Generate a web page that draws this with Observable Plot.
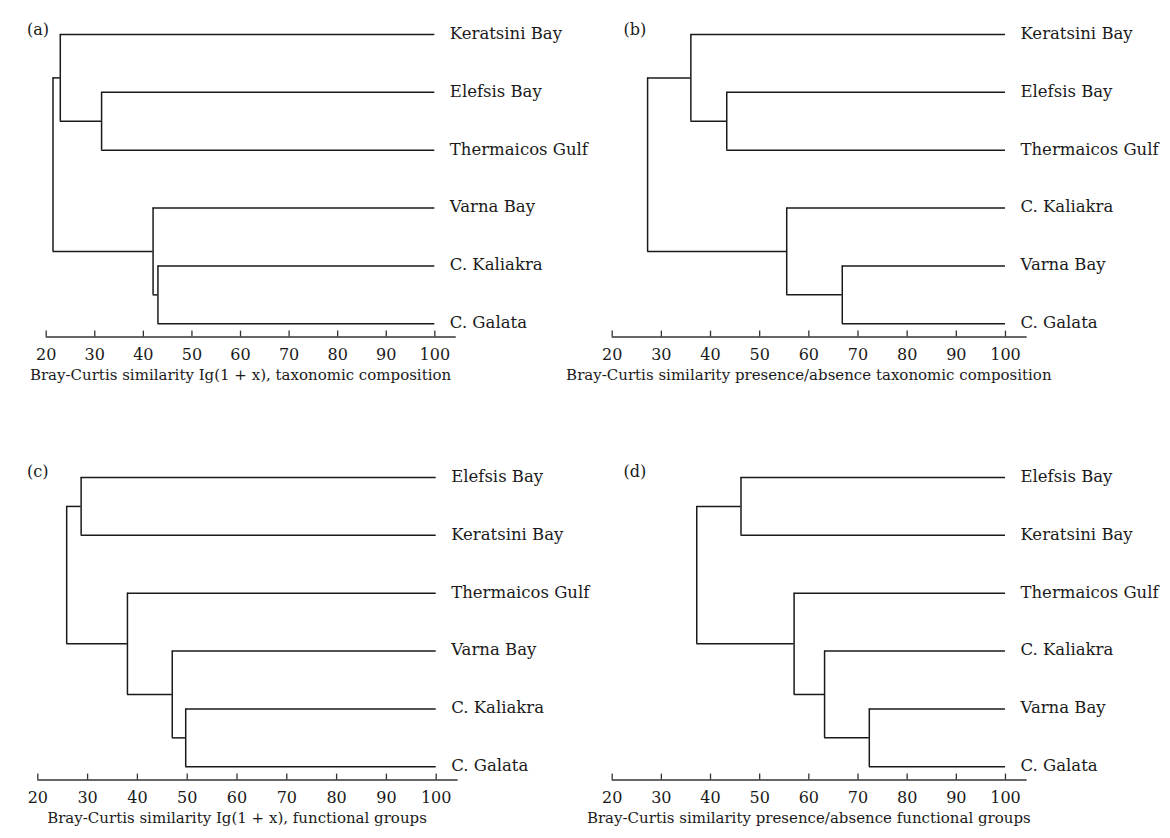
<!DOCTYPE html>
<html><head><meta charset="utf-8">
<script src="https://cdn.jsdelivr.net/npm/d3@7"></script>
<script src="https://cdn.jsdelivr.net/npm/@observablehq/plot@0.6"></script>
<style>
body{margin:0;background:#fff;}
#chart{position:relative;width:1170px;height:838px;overflow:hidden;}
#chart svg{position:absolute;overflow:visible;}
</style></head><body><div id="chart"></div>
<script>
// ---- data ----
const tickValues = [20, 30, 40, 50, 60, 70, 80, 90, 100];

const leavesA = ["Keratsini Bay", "Elefsis Bay", "Thermaicos Gulf", "Varna Bay", "C. Kaliakra", "C. Galata"];
const mergesA = [
  ["Elefsis Bay", "Thermaicos Gulf", 31.4],   // #0
  ["Keratsini Bay", "#0", 22.9],              // #1
  ["C. Kaliakra", "C. Galata", 43.0],         // #2
  ["Varna Bay", "#2", 42.0],                  // #3
  ["#1", "#3", 21.4]                          // #4
];
const titleA = "Bray-Curtis similarity Ig(1 + x), taxonomic composition";

const leavesB = ["Keratsini Bay", "Elefsis Bay", "Thermaicos Gulf", "C. Kaliakra", "Varna Bay", "C. Galata"];
const mergesB = [
  ["Elefsis Bay", "Thermaicos Gulf", 43.3],
  ["Keratsini Bay", "#0", 36.0],
  ["Varna Bay", "C. Galata", 66.8],
  ["C. Kaliakra", "#2", 55.5],
  ["#1", "#3", 27.2]
];
const titleB = "Bray-Curtis similarity presence/absence taxonomic composition";

const leavesC = ["Elefsis Bay", "Keratsini Bay", "Thermaicos Gulf", "Varna Bay", "C. Kaliakra", "C. Galata"];
const mergesC = [
  ["Elefsis Bay", "Keratsini Bay", 28.7],
  ["C. Kaliakra", "C. Galata", 49.7],
  ["Varna Bay", "#1", 47.0],
  ["Thermaicos Gulf", "#2", 38.0],
  ["#0", "#3", 25.8]
];
const titleC = "Bray-Curtis similarity Ig(1 + x), functional groups";

const leavesD = ["Elefsis Bay", "Keratsini Bay", "Thermaicos Gulf", "C. Kaliakra", "Varna Bay", "C. Galata"];
const mergesD = [
  ["Elefsis Bay", "Keratsini Bay", 46.2],
  ["Varna Bay", "C. Galata", 72.3],
  ["C. Kaliakra", "#1", 63.2],
  ["Thermaicos Gulf", "#2", 57.0],
  ["#0", "#3", 37.2]
];
const titleD = "Bray-Curtis similarity presence/absence functional groups";

const panelLabels = ["(a)", "(b)", "(c)", "(d)"];

// ---- layout ----
const axisEnd = 104.4;     // axis line extends a little past 100
const axisPos = 5.23;      // axis line position below the last leaf (in leaf units)
const ink = "#1a1a1a";

function dendrogram({leaves, merges, label, title, left, top, width, height, px20, k, leafTop, spacing, labelX, labelY}) {
  const nodes = {};
  const leafData = leaves.map((name, i) => (nodes[name] = {name, x: 100, y: i}));
  const hSeg = [], vSeg = [];
  merges.forEach(([a, b, s], i) => {
    const A = nodes[a], B = nodes[b];
    hSeg.push({y: A.y, x1: A.x, x2: s}, {y: B.y, x1: B.x, x2: s});
    vSeg.push({x: s, y1: A.y, y2: B.y});
    nodes["#" + i] = {x: s, y: (A.y + B.y) / 2};
  });
  const xRight = px20 + (axisEnd - tickValues[0]) * k;
  const yBottom = leafTop + axisPos * spacing;
  const mid = (tickValues[0] + tickValues[tickValues.length - 1]) / 2;
  const svg = Plot.plot({
    width, height,
    marginLeft: px20, marginRight: width - xRight,
    marginTop: leafTop, marginBottom: height - yBottom,
    style: {fontFamily: "'DejaVu Serif', serif", fontSize: "15px", color: ink, background: "transparent"},
    x: {domain: [tickValues[0], axisEnd], range: [px20, xRight]},
    y: {domain: [0, axisPos], range: [leafTop, yBottom], axis: null},
    marks: [
      Plot.ruleY(hSeg, {y: "y", x1: "x1", x2: "x2", stroke: ink, strokeWidth: 1.5}),
      Plot.ruleX(vSeg, {x: "x", y1: "y1", y2: "y2", stroke: ink, strokeWidth: 1.5}),
      Plot.ruleY([axisPos], {stroke: "#333", strokeWidth: 1.5}),
      Plot.axisX({ticks: tickValues, tickSize: -6, tickFormat: () => "", label: null, stroke: "#333", strokeWidth: 1.3}),
      Plot.axisX({ticks: tickValues, tickSize: 0, tickPadding: 12, label: null, fontSize: 16, fill: ink}),
      Plot.text(leafData, {x: "x", y: "y", text: "name", textAnchor: "start", dx: 15, dy: -1, fontSize: 16.5, fill: ink}),
      Plot.text([title], {x: () => mid, frameAnchor: "bottom", dy: 43, fontSize: 15, fill: ink}),
      Plot.text([label], {frameAnchor: "top-left", dx: labelX - px20, dy: labelY - leafTop, textAnchor: "start", fontSize: 16, fill: ink})
    ]
  });
  svg.style.left = left + "px";
  svg.style.top = top + "px";
  document.getElementById("chart").appendChild(svg);
}

const spacing = 57.86;
dendrogram({leaves: leavesA, merges: mergesA, label: panelLabels[0], title: titleA, left: 0, top: 0, width: 566, height: 443, px20: 45.7, k: 4.858, leafTop: 34, spacing, labelX: 26.5, labelY: 23});
dendrogram({leaves: leavesB, merges: mergesB, label: panelLabels[1], title: titleB, left: 566, top: 0, width: 604, height: 443, px20: 45.7, k: 4.916, leafTop: 34, spacing, labelX: 57, labelY: 23});
dendrogram({leaves: leavesC, merges: mergesC, label: panelLabels[2], title: titleC, left: 0, top: 443, width: 566, height: 395, px20: 37.3, k: 4.98, leafTop: 34, spacing, labelX: 26.5, labelY: 22});
dendrogram({leaves: leavesD, merges: mergesD, label: panelLabels[3], title: titleD, left: 566, top: 443, width: 604, height: 395, px20: 45.7, k: 4.916, leafTop: 34, spacing, labelX: 57, labelY: 22});
</script>
</body></html>
